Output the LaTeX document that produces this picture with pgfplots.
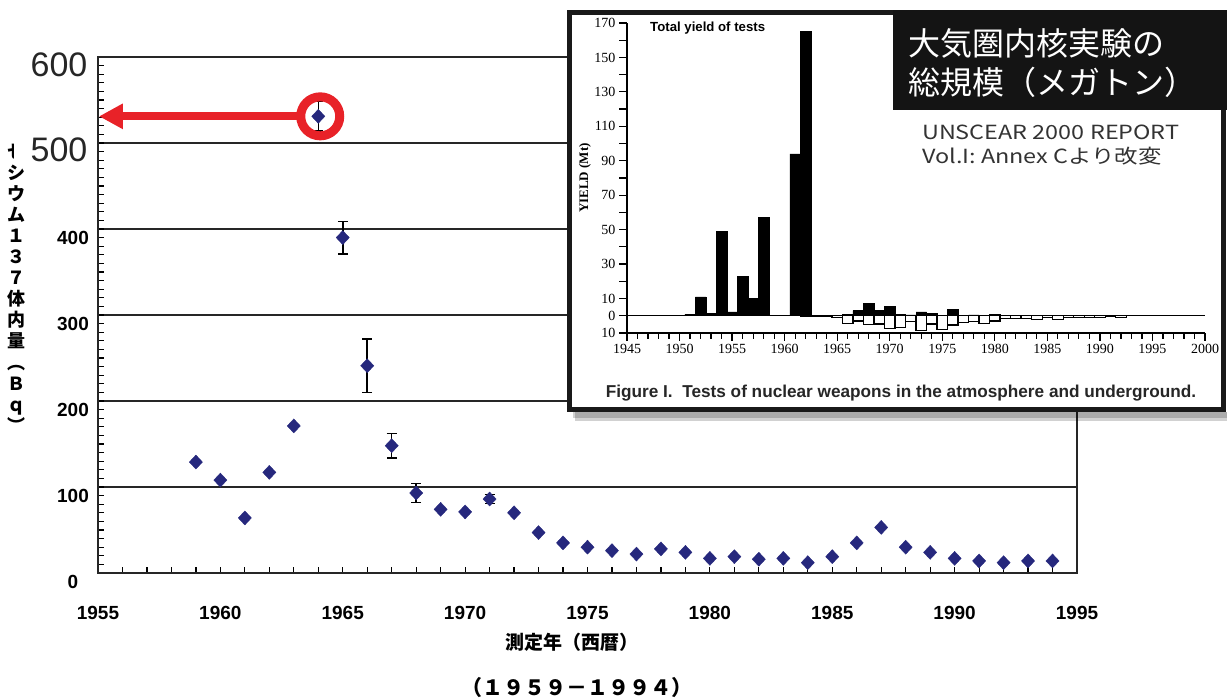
\documentclass[border=0pt]{standalone}
\usepackage{pgfplots}
\pgfplotsset{compat=1.18}
\usepackage{fontspec}
\setmainfont{Liberation Sans}
\newfontfamily\jp{Noto Sans CJK JP}
\newfontfamily\jpwide[FakeStretch=1.2]{Noto Sans CJK JP}
\newfontfamily\serifb{Liberation Serif}
\usetikzlibrary{arrows.meta}
\definecolor{navy}{RGB}{38,40,125}
\definecolor{annred}{RGB}{232,34,40}
\begin{document}
\begin{tikzpicture}[x=1pt,y=1pt]
\useasboundingbox (0,0) rectangle (1227,700);
% ---------------- main chart ----------------
\begin{axis}[
  at={(98pt,127pt)}, anchor=south west,
  scale only axis, width=979pt, height=516pt,
  xmin=1955, xmax=1995, ymin=0, ymax=600,
  xtick={1955,1960,...,1995},
  xticklabels={1955,1960,1965,1970,1975,1980,1985,1990,1995},
  minor x tick num=4,
  ytick={0,100,...,600},
  yticklabels={0,100,200,300,400,{},{}},
  minor y tick num=9,
  tick align=inside, tick pos=left,
  major tick length=6pt, minor tick length=6pt,
  every tick/.style={black, line width=1.2pt},
  ymajorgrids, major grid style={black!85, line width=1.5pt},
  axis line style={black!85, line width=1.5pt},
  ticklabel style={font=\bfseries\fontsize{19}{20}\selectfont},
  xticklabel style={yshift=-30pt},
  yticklabel style={anchor=center, yshift=-9pt, xshift=-25pt},
]
\addplot[only marks, mark=none,
  error bars/.cd, y dir=both, y explicit,
  error bar style={black, line width=1.5pt},
  error mark options={rotate=90, black, mark size=5pt, line width=1.5pt}]
  coordinates {
  (1964,531) +- (0,17)
  (1965,390) +- (0,19)
  (1966,241) +- (0,31)
  (1967,148) +- (0,14)
  (1968,93) +- (0,11)
  (1971,86) +- (0,5)
  };
\addplot[only marks, mark=diamond*, mark size=7pt,
  mark options={fill=navy, draw=navy, xscale=1.25}]
  coordinates {
  (1959,129) (1960,108) (1961,64) (1962,117) (1963,171)
  (1964,531) (1965,390) (1966,241) (1967,148) (1968,93)
  (1969,74) (1970,71) (1971,86) (1972,70) (1973,47)
  (1974,35) (1975,30) (1976,26) (1977,22) (1978,28)
  (1979,24) (1980,17) (1981,19) (1982,16) (1983,17)
  (1984,12) (1985,19) (1986,35) (1987,53) (1988,30)
  (1989,24) (1990,17) (1991,14) (1992,12) (1993,14)
  (1994,14)
  };
\draw[annred, line width=8pt, -{Triangle[length=24pt,width=24pt]}]
  (axis cs:1963.2,531) -- (axis cs:1955.04,531);
\draw[annred, line width=9pt] (axis cs:1964.08,531) circle[radius=19.5pt];
\end{axis}
% y axis label (vertical)
\node[font=\jp\bfseries\fontsize{18}{21.1}\selectfont, align=center, inner sep=0pt]
  at (16,412) {セ\\シ\\ウ\\ム\\１\\３\\７\\体\\内\\量\\︵\\Ｂ\\ｑ\\︶};
% big 600 / 500 labels
\fill[white] (14,536) rectangle (96,563);
\node[font=\fontsize{34}{36}\selectfont, text=black!85] at (59,550) {500};
\node[font=\fontsize{34}{36}\selectfont, text=black!85] at (59,635) {600};
% x axis titles
\node[font=\jp\bfseries\fontsize{19}{21}\selectfont] at (572,58) {測定年（西暦）};
\node[font=\jp\bfseries\fontsize{21}{23}\selectfont] at (577,12) {（１９５９－１９９４）};
% ---------------- inset ----------------
\fill[black, opacity=0.18] (575,279) rectangle (1227,684);
\fill[black, opacity=0.18] (573,282) rectangle (1227,686);
\fill[white] (567,288) rectangle (1227,690);
\begin{axis}[
  at={(627pt,367pt)}, anchor=south west,
  scale only axis, width=578pt, height=310pt,
  xmin=1945, xmax=2000, ymin=-10, ymax=170,
  axis x line=bottom, axis y line=left,
  axis line style={-, black, line width=1.3pt},
  xtick={1945,1950,...,2000},
  xticklabels={1945,1950,1955,1960,1965,1970,1975,1980,1985,1990,1995,2000},
  minor x tick num=4,
  ytick={-10,0,10,...,170},
  yticklabels={10,0,10,{},30,{},50,{},70,{},90,{},110,{},130,{},150,{},170},
  tick align=outside,
  major tick length=8pt, minor tick length=6pt,
  every tick/.style={black, line width=1.2pt},
  ticklabel style={font=\serifb\fontsize{14}{16}\selectfont},
  clip=false,
]
\addplot[ybar, bar width=10.5pt, bar shift=0pt, fill=black, draw=black, line width=0.6pt]
  coordinates {
  (1951,1) (1952,11) (1953,1.2) (1954,49) (1955,2.3) (1956,23) (1957,10)
  (1958,57) (1961,94) (1962,165) (1966,1) (1967,3) (1968,7.2) (1969,3)
  (1970,5.6) (1971,1) (1972,0.5) (1973,2.3) (1974,1.4) (1976,3.9)
  (1977,0.3) (1978,0.5) (1980,0.8)
  };
\addplot[ybar, bar width=10.5pt, bar shift=0pt, fill=white, draw=black, line width=1.2pt]
  coordinates {
  (1962,-0.6) (1963,-0.5) (1964,-0.5) (1965,-1.2) (1966,-4.4) (1967,-3)
  (1968,-5.2) (1969,-4.8) (1970,-7.2) (1971,-6.8) (1972,-3.3) (1973,-8.5)
  (1974,-4.8) (1975,-8.1) (1976,-5.4) (1977,-3.7) (1978,-3.3) (1979,-4.3)
  (1980,-3) (1981,-1.7) (1982,-1.5) (1983,-1.5) (1984,-2.3) (1985,-1.2)
  (1986,-2.3) (1987,-1.2) (1988,-1) (1989,-0.8) (1990,-1) (1991,-0.5)
  (1992,-1)
  };
\addplot[black, line width=1.2pt, mark=none] coordinates {(1945,0) (2000,0)};
\end{axis}
\node[rotate=90, font=\serifb\bfseries\fontsize{13}{15}\selectfont] at (585,522) {YIELD (Mt)};
\node[anchor=west, font=\bfseries\fontsize{13.2}{15}\selectfont, inner sep=0pt] at (650,672) {Total yield of tests};
\node[font=\bfseries\fontsize{17.2}{19}\selectfont, text=black!85] at (901,307) {Figure I.\ \ Tests of nuclear weapons in the atmosphere and underground.};
\draw[black!90, line width=5pt] (569.5,290.5) rectangle (1223.5,687.5);
% title box
\fill[black!92] (893,590) rectangle (1227,690);
\node[anchor=west, text=white, font=\jp\fontsize{32}{34}\selectfont, inner sep=0pt] at (908,657) {大気圏内核実験の};
\node[anchor=west, text=white, font=\jp\fontsize{32}{34}\selectfont, inner sep=0pt] at (908,618) {総規模（メガトン）};
\node[anchor=west, text=black!80, font=\jpwide\fontsize{19.5}{21}\selectfont, inner sep=0pt] at (922,568) {UNSCEAR 2000 REPORT};
\node[anchor=west, text=black!80, font=\jpwide\fontsize{19.5}{21}\selectfont, inner sep=0pt] at (922,544) {Vol.I: Annex Cより改変};
\end{tikzpicture}
\end{document}
